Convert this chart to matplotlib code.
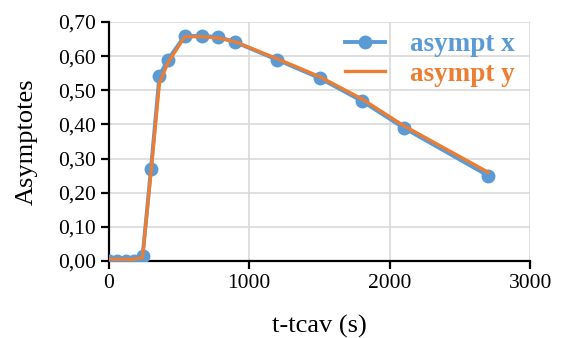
import matplotlib
matplotlib.use("Agg")
import matplotlib.pyplot as plt
from matplotlib.ticker import FuncFormatter

# Data
t = [0, 60, 120, 180, 240, 300, 360, 420, 540, 660, 780, 900, 1200, 1500, 1800, 2100, 2700]
asympt_x = [0.0, 0.0, 0.0, 0.0, 0.013, 0.27, 0.542, 0.589, 0.659, 0.659, 0.656, 0.641,
            0.589, 0.536, 0.469, 0.390, 0.250]
asympt_y = [0.005, 0.005, 0.005, 0.005, 0.01, 0.26, 0.52, 0.58, 0.657, 0.657, 0.653, 0.642,
            0.592, 0.540, 0.475, 0.396, 0.260]

blue = "#5B9BD5"
orange = "#ED7D31"

plt.rcParams["font.family"] = ["Liberation Serif", "DejaVu Serif"]

fig = plt.figure(figsize=(5.64, 3.38), dpi=100)
ax = fig.add_axes([0.193, 0.228, 0.747, 0.707])

ax.plot(t, asympt_x, color=blue, lw=2.8, marker="o", ms=9, label="asympt x", zorder=3)
ax.plot(t, asympt_y, color=orange, lw=2.4, label="asympt y", zorder=4)

ax.set_xlim(0, 3000)
ax.set_ylim(0, 0.70)
ax.set_xticks([0, 1000, 2000, 3000])
ax.set_yticks([i / 10 for i in range(8)])
ax.yaxis.set_major_formatter(FuncFormatter(lambda v, p: f"{v:.2f}".replace(".", ",")))

ax.grid(True, color="#d9d9d9", lw=1.2)
ax.set_axisbelow(True)
for s in ["top", "right"]:
    ax.spines[s].set_visible(False)
for s in ["left", "bottom"]:
    ax.spines[s].set_linewidth(1.6)
ax.tick_params(direction="out", length=6, width=1.6, labelsize=15.5)

ax.set_xlabel("t-tcav (s)", fontsize=19, labelpad=16)
ax.set_ylabel("Asymptotes", fontsize=19, labelpad=14)

leg = ax.legend(loc="upper right", bbox_to_anchor=(1.02, 1.06), frameon=False,
                prop={"weight": "bold", "size": 19.5}, handlelength=1.5, handletextpad=0.9,
                labelspacing=0.18)
for txt, c in zip(leg.get_texts(), [blue, orange]):
    txt.set_color(c)

fig.savefig("out.png", dpi=100)
